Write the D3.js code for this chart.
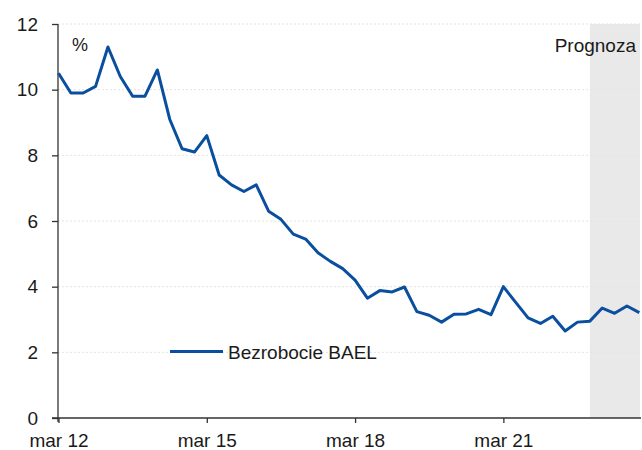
<!DOCTYPE html>
<html>
<head>
<meta charset="utf-8">
<script src="https://cdn.jsdelivr.net/npm/d3@7"></script>
<style>
  body { margin: 0; background: #fff; }
  svg { display: block; }
  text { font-family: "Liberation Sans", Arial, sans-serif; fill: #1a1a1a; }
</style>
</head>
<body>
<div class="chart"></div>
<script>
// quarterly BAEL unemployment, % (mar 12 .. dec 23)
var quarters = d3.range(48);
var bael = [10.5, 9.9, 9.9, 10.1, 11.3, 10.4, 9.8, 9.8, 10.6, 9.1, 8.2, 8.1,
            8.6, 7.4, 7.1, 6.9, 7.1, 6.3, 6.05, 5.6, 5.45, 5.03, 4.77, 4.55,
            4.2, 3.65, 3.88, 3.84, 3.99, 3.24, 3.13, 2.92, 3.16, 3.17, 3.31, 3.15,
            4.0, 3.52, 3.05, 2.88, 3.10, 2.65, 2.92, 2.95, 3.35, 3.19, 3.41, 3.21];
var tickIdx = [0, 12, 24, 36];
var tickLabels = ["mar 12", "mar 15", "mar 18", "mar 21"];
var yTicks = [0, 2, 4, 6, 8, 10, 12];
var forecastFrom = 43;

drawChart();

function drawChart() {
var width = 642, height = 450;
var plot = {left: 58, right: 640, top: 24, bottom: 418};

var svg = d3.select(".chart").append("svg")
    .attr("width", width)
    .attr("height", height);

var x = d3.scaleLinear()
    .domain([0, 47])
    .range([58.5, 639.3]);
var y = d3.scaleLinear()
    .domain([0, 12])
    .range([plot.bottom, plot.top]);

// forecast shading
svg.append("rect")
    .attr("x", x(forecastFrom))
    .attr("y", y(12))
    .attr("width", plot.right - x(forecastFrom))
    .attr("height", y(0) - y(12))
    .style("fill", "#e9e9e9");

// gridlines
svg.selectAll(".grid")
    .data(yTicks.slice(1))
  .enter().append("line")
    .attr("class", "grid")
    .attr("x1", plot.left)
    .attr("x2", plot.right)
    .attr("y1", function(d) { return y(d); })
    .attr("y2", function(d) { return y(d); })
    .style("stroke", "#e4e4e4")
    .style("stroke-width", 1)
    .style("stroke-dasharray", "2,2");

var yAxis = d3.axisLeft(y)
    .tickValues(yTicks)
    .tickSize(6)
    .tickPadding(14)
    .tickSizeOuter(0);

var gy = svg.append("g")
    .attr("transform", "translate(" + plot.left + ",0)")
    .call(yAxis);
gy.select(".domain").remove();
gy.selectAll("line").style("stroke", "#333").style("stroke-width", 1.3);
gy.selectAll("text").style("font-size", "19px").style("fill", "#1a1a1a");

var xAxis = d3.axisBottom(x)
    .tickValues(tickIdx)
    .tickFormat(function(d, i) { return tickLabels[i]; })
    .tickSize(5)
    .tickPadding(11)
    .tickSizeOuter(0);

var gx = svg.append("g")
    .attr("transform", "translate(0," + plot.bottom + ")")
    .call(xAxis);
gx.select(".domain").remove();
gx.selectAll("line").style("stroke", "#333").style("stroke-width", 1.3);
gx.selectAll("text").style("font-size", "19px").style("fill", "#1a1a1a");

// axis lines
svg.append("line")
    .attr("x1", plot.left).attr("x2", plot.left)
    .attr("y1", plot.top).attr("y2", plot.bottom + 4)
    .style("stroke", "#333").style("stroke-width", 1.3);
svg.append("line")
    .attr("x1", plot.left - 6).attr("x2", plot.right + 1)
    .attr("y1", plot.bottom).attr("y2", plot.bottom)
    .style("stroke", "#333").style("stroke-width", 1.3);

var line = d3.line()
    .x(function(d, i) { return x(quarters[i]); })
    .y(function(d) { return y(d); });

svg.append("path")
    .datum(bael)
    .attr("d", line)
    .style("fill", "none")
    .style("stroke", "#0a4f9f")
    .style("stroke-width", 3)
    .style("stroke-linejoin", "round");

svg.append("text")
    .attr("x", 72)
    .attr("y", 51)
    .style("font-size", "18px")
    .text("%");

svg.append("text")
    .attr("x", 636)
    .attr("y", 51.5)
    .attr("text-anchor", "end")
    .style("font-size", "19px")
    .text("Prognoza");

// legend
svg.append("line")
    .attr("x1", 170).attr("x2", 223)
    .attr("y1", 351.5).attr("y2", 351.5)
    .style("stroke", "#0a4f9f")
    .style("stroke-width", 3);
svg.append("text")
    .attr("x", 228)
    .attr("y", 358.5)
    .style("font-size", "19px")
    .text("Bezrobocie BAEL");
}
</script>
</body>
</html>
